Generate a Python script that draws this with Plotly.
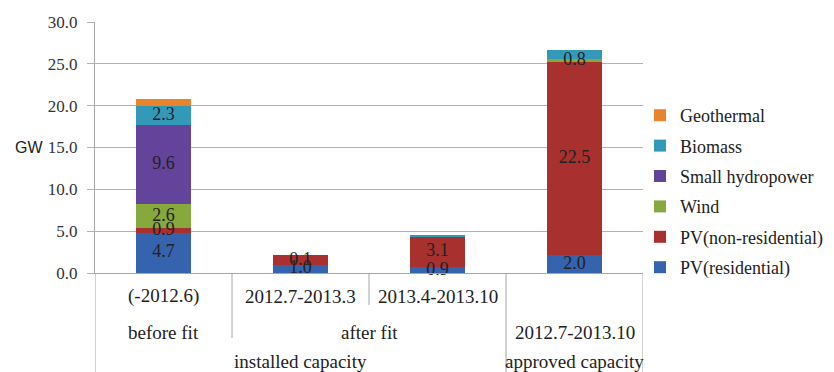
import plotly.graph_objects as go

# ---- data ----
periods = ["(-2012.6)", "2012.7-2013.3", "2013.4-2013.10", ""]
positions = [0, 1, 2, 3]

series_names = ["PV(residential)", "PV(non-residential)", "Wind",
                "Small hydropower", "Biomass", "Geothermal"]
pv_res = [4.8, 1.0, 0.7, 2.1]
pv_nonres = [0.6, 1.1, 3.7, 23.1]
wind = [2.8, 0.0, 0.0, 0.4]
hydro = [9.5, 0.0, 0.0, 0.0]
biomass = [2.3, 0.0, 0.1, 1.0]
geothermal = [0.8, 0.0, 0.0, 0.0]

pv_res_lbl = ["4.7", "1.0", "0.9", "2.0"]
pv_nonres_lbl = ["0.9", "0.1", "3.1", "22.5"]
wind_lbl = ["2.6", "", "", "0.8"]
hydro_lbl = ["9.6", "", "", ""]
biomass_lbl = ["2.3", "", "", ""]
geothermal_lbl = ["", "", "", ""]

colors = ["#3563AE", "#A8302F", "#87A83C", "#63449A", "#3399B9", "#E8852C"]

row2_labels = ["before fit", "after fit", "2012.7-2013.10"]
row2_pos = [0, 1.5, 3]
row3_labels = ["installed capacity", "approved capacity"]
row3_pos = [1, 3]

y_ticks = [0, 5, 10, 15, 20, 25, 30]

# ---- figure ----
SERIF = "Liberation Serif"
values = [pv_res, pv_nonres, wind, hydro, biomass, geothermal]
labels = [pv_res_lbl, pv_nonres_lbl, wind_lbl, hydro_lbl, biomass_lbl, geothermal_lbl]

fig = go.Figure()
n = len(series_names)
base = [0.0] * len(positions)
lx, ly, lt = [], [], []
for i, (name, vals, lbl, col) in enumerate(zip(series_names, values, labels, colors)):
    fig.add_trace(go.Bar(
        x=positions, y=vals, name=name, legendgroup=name, legendrank=n - i,
        marker=dict(color=col, line=dict(width=0)),
        width=0.4,
    ))
    for j, (v, t) in enumerate(zip(vals, lbl)):
        if t:
            lx.append(positions[j])
            ly.append(base[j] + v / 2.0)
            lt.append(t)
        base[j] += v

fig.add_trace(go.Scatter(
    x=lx, y=ly, text=lt, mode="text", showlegend=False, hoverinfo="skip",
    textposition="middle center",
    textfont=dict(family=SERIF, size=18, color="#222222"), cliponaxis=False,
))

line_col = "#a6a6a6"
plot_h = 251.0
def py(pix):
    return (273 - pix) / plot_h

def px(pix):
    return (pix - 95) / 548.0

shapes = []
for xv, bottom in [(-0.5, 372), (0.5, 338), (1.5, 305), (2.5, 372), (3.5, 372)]:
    shapes.append(dict(type="line", xref="x", yref="paper", x0=xv, x1=xv,
                       y0=0, y1=py(bottom), line=dict(color=line_col, width=1)))

annotations = []
def cat_label(xv, ypix, t):
    annotations.append(dict(x=xv, y=py(ypix), xref="x", yref="paper", text=t,
                            xanchor="center", yanchor="middle", showarrow=False,
                            font=dict(family=SERIF, size=19, color="#222")))

for p, t in zip(positions, periods):
    if t:
        cat_label(p, 296, t)
for p, t in zip(row2_pos, row2_labels):
    cat_label(p, 332, t)
for p, t in zip(row3_pos, row3_labels):
    cat_label(p, 361, t)
annotations.append(dict(x=px(45), y=py(147), xref="paper", yref="paper", text="GW",
                        xanchor="right", yanchor="middle", showarrow=False,
                        font=dict(family="Liberation Sans", size=16, color="#222")))

fig.update_layout(
    width=834, height=372,
    margin=dict(l=95, r=191, t=22, b=99, autoexpand=False),
    barmode="stack", bargap=0.6,
    plot_bgcolor="white", paper_bgcolor="white",
    showlegend=True,
    legend=dict(x=px(640), xanchor="left", y=py(97), yanchor="top",
                traceorder="grouped", tracegroupgap=4,
                font=dict(family=SERIF, size=18, color="#222"),
                bgcolor="rgba(0,0,0,0)"),
    xaxis=dict(range=[-0.5, 3.5], showticklabels=False, showgrid=False,
               zeroline=False, showline=True, linecolor=line_col, linewidth=1,
               ticks=""),
    yaxis=dict(range=[0, 30], tickvals=y_ticks,
               ticktext=[f"{v:.1f}" for v in y_ticks],
               showgrid=True, gridcolor="#b3b3b3", gridwidth=1,
               zeroline=False, showline=True, linecolor=line_col, linewidth=1,
               ticks="outside", ticklen=7, tickcolor="#b3b3b3",
               ticklabelstandoff=6,
               tickfont=dict(family=SERIF, size=17, color="#333")),
    shapes=shapes, annotations=annotations,
)

fig.write_html("out.html")
